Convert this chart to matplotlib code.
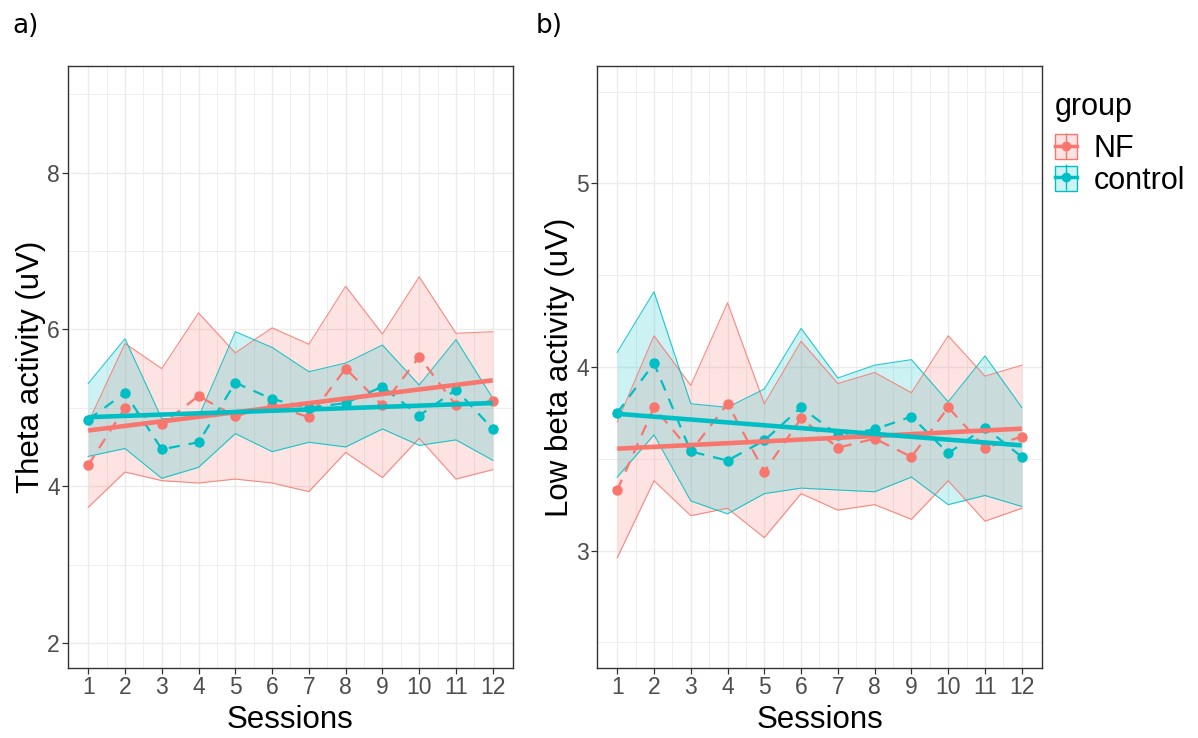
import numpy as np
import matplotlib
matplotlib.use('Agg')
import matplotlib.pyplot as plt
from matplotlib.lines import Line2D
from matplotlib.patches import Patch
from matplotlib.legend_handler import HandlerTuple

plt.rcParams['font.family'] = ['Liberation Sans', 'DejaVu Sans']

# Sessions on the x axis
sessions = np.arange(1, 13)
groups = ['NF', 'control']
colors = {'NF': '#F8766D', 'control': '#00BFC4'}

# a) Theta activity (uV): group means and ribbon bounds
theta_mean = {
    'NF':      [4.27, 5.00, 4.79, 5.15, 4.89, 5.03, 4.88, 5.50, 5.03, 5.65, 5.03, 5.09],
    'control': [4.85, 5.19, 4.47, 4.56, 5.32, 5.11, 5.00, 5.06, 5.27, 4.90, 5.23, 4.73],
}
theta_upper = {
    'NF':      [4.81, 5.82, 5.50, 6.21, 5.70, 6.02, 5.81, 6.55, 5.94, 6.67, 5.95, 5.97],
    'control': [5.31, 5.88, 4.86, 4.88, 5.97, 5.77, 5.46, 5.57, 5.80, 5.29, 5.87, 5.12],
}
theta_lower = {
    'NF':      [3.73, 4.18, 4.07, 4.04, 4.09, 4.04, 3.93, 4.43, 4.11, 4.61, 4.09, 4.21],
    'control': [4.38, 4.48, 4.10, 4.24, 4.67, 4.44, 4.56, 4.50, 4.73, 4.52, 4.59, 4.33],
}
# linear trend, value at session 1 and session 12
theta_fit = {'NF': [4.71, 5.35], 'control': [4.88, 5.06]}

# b) Low beta activity (uV)
beta_mean = {
    'NF':      [3.33, 3.78, 3.54, 3.80, 3.43, 3.72, 3.56, 3.61, 3.51, 3.78, 3.56, 3.62],
    'control': [3.75, 4.02, 3.54, 3.49, 3.60, 3.78, 3.63, 3.66, 3.73, 3.53, 3.67, 3.51],
}
beta_upper = {
    'NF':      [3.70, 4.17, 3.90, 4.35, 3.80, 4.14, 3.91, 3.97, 3.86, 4.17, 3.95, 4.01],
    'control': [4.08, 4.41, 3.80, 3.78, 3.88, 4.21, 3.94, 4.01, 4.04, 3.81, 4.06, 3.78],
}
beta_lower = {
    'NF':      [2.96, 3.38, 3.19, 3.23, 3.07, 3.31, 3.22, 3.25, 3.17, 3.38, 3.16, 3.23],
    'control': [3.40, 3.63, 3.27, 3.20, 3.31, 3.34, 3.33, 3.32, 3.40, 3.25, 3.30, 3.24],
}
beta_fit = {'NF': [3.555, 3.664], 'control': [3.745, 3.573]}


def draw_panel(ax, mean, upper, lower, fit, ylabel, ylim, yticks, yminor):
    for g in groups:
        c = colors[g]
        ax.fill_between(sessions, lower[g], upper[g], color=c, alpha=0.2, lw=0, zorder=2)
        ax.plot(sessions, upper[g], color=c, lw=0.8, alpha=0.85, zorder=3)
        ax.plot(sessions, lower[g], color=c, lw=0.8, alpha=0.85, zorder=3)
    for g in groups:
        c = colors[g]
        ax.plot(sessions, mean[g], color=c, lw=1.6, dashes=(5, 4), marker='o', ms=6.5, zorder=4)
    for g in groups:
        ax.plot([sessions[0], sessions[-1]], fit[g], color=colors[g], lw=3.3,
                solid_capstyle='butt', zorder=5)

    ax.set_xlim(0.45, 12.55)
    ax.set_ylim(*ylim)
    ax.set_xticks(sessions)
    ax.set_xticks(sessions[:-1] + 0.5, minor=True)
    ax.set_yticks(yticks)
    ax.set_yticks(yminor, minor=True)
    ax.grid(which='major', color='#EBEBEB', lw=1.0, zorder=0)
    ax.grid(which='minor', color='#EBEBEB', lw=0.6, zorder=0)
    ax.set_axisbelow(True)
    ax.tick_params(which='major', length=4, width=0.9, color='#333333',
                   labelsize=16.5, labelcolor='#4D4D4D', pad=2)
    ax.tick_params(which='minor', length=0)
    for s in ax.spines.values():
        s.set_color('#333333')
        s.set_linewidth(1.0)
    ax.set_xlabel('Sessions', fontsize=22.5, labelpad=4)
    ax.set_ylabel(ylabel, fontsize=22.5, labelpad=1)


fig = plt.figure(figsize=(11.98, 7.38), dpi=100)
ax1 = fig.add_axes([68 / 1198, 70 / 738, 445 / 1198, 602 / 738])
ax2 = fig.add_axes([597 / 1198, 70 / 738, 445 / 1198, 602 / 738])

draw_panel(ax1, theta_mean, theta_upper, theta_lower, theta_fit,
           'Theta activity (uV)', (1.68, 9.36), [2, 4, 6, 8], [3, 5, 7, 9])
draw_panel(ax2, beta_mean, beta_upper, beta_lower, beta_fit,
           'Low beta activity (uV)', (2.36, 5.64), [3, 4, 5], [2.5, 3.5, 4.5, 5.5])

# panel tags
fig.text(12 / 1198, 1 - 13 / 738, 'a)', fontsize=19, family='DejaVu Sans', va='top', ha='left')
fig.text(536 / 1198, 1 - 13 / 738, 'b)', fontsize=19, family='DejaVu Sans', va='top', ha='left')

# legend: ribbon box + dashed line with point
handles = []
for g in groups:
    c = colors[g]
    box = Patch(facecolor=c, alpha=0.2, edgecolor='none')
    edge = Patch(facecolor='none', edgecolor=c, lw=1.0)
    hline = Line2D([], [], color=c, lw=2.5, marker='o', ms=6)
    vline = Line2D([], [], color=c, marker='|', ms=19, mew=1.0, ls='none')
    handles.append((box, edge, hline, vline))

fig.text(1055 / 1198, 1 - 107 / 738, 'group', fontsize=22, va='center', ha='left')
leg = fig.legend(handles, groups, loc='upper left', bbox_to_anchor=(1055 / 1198, 1 - 134 / 738),
                 frameon=False, fontsize=22,
                 handler_map={tuple: HandlerTuple(ndivide=1, pad=0)},
                 handlelength=0.72, handleheight=0.9, handletextpad=0.55,
                 labelspacing=0.05, borderpad=0, borderaxespad=0)

fig.savefig('out.png', dpi=100)
